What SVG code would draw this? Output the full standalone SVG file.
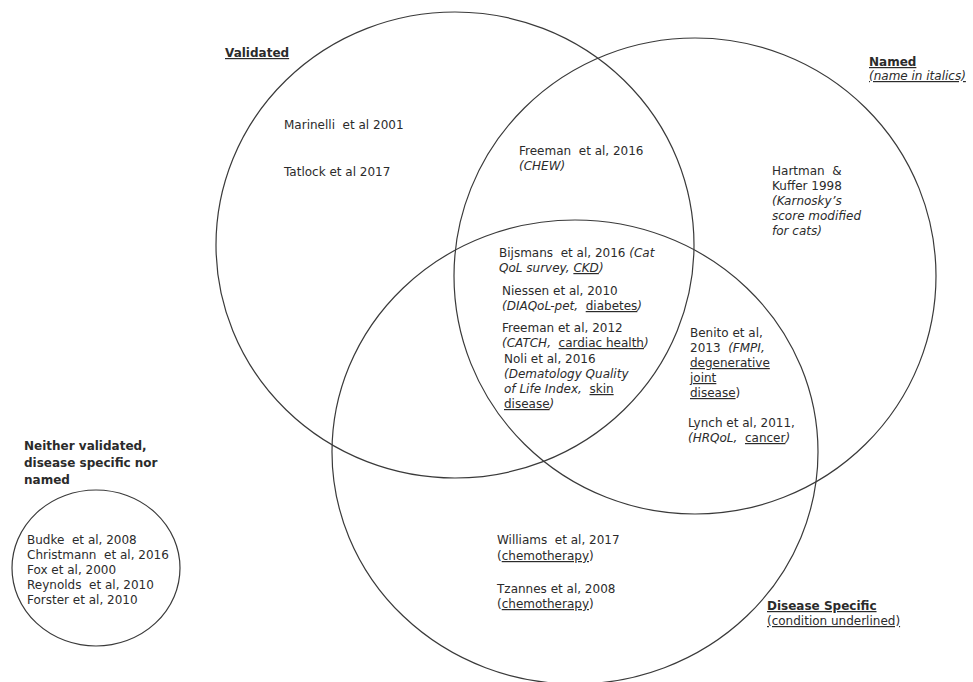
<svg xmlns="http://www.w3.org/2000/svg" width="973" height="682" viewBox="0 0 973 682">
  <style>
    .set { fill: none; stroke: #3a3a3a; stroke-width: 1.2; }
    text { font-family: "DejaVu Sans", Verdana, "Liberation Sans", sans-serif; font-size: 12px; fill: #2b2b2b; white-space: pre; }
    .hd { font-weight: bold; text-decoration: underline; }
    .hb { font-weight: bold; }
    .it { font-style: italic; }
    .ul { text-decoration: underline; }
    .up { text-decoration: underline; font-style: normal; }
  </style>
  <rect width="973" height="682" fill="#ffffff"/>

  <!-- set outlines with their headings -->
  <g id="set-validated">
    <ellipse class="set" cx="455" cy="245" rx="239" ry="233"/>
    <text x="225" y="57" class="hd">Validated</text>
  </g>
  <g id="set-named">
    <ellipse class="set" cx="695" cy="276" rx="241" ry="238"/>
    <text x="869" y="66" class="hd">Named</text>
    <text x="869" y="80" class="it ul">(name in italics)</text>
  </g>
  <g id="set-disease">
    <ellipse class="set" cx="575" cy="452" rx="243" ry="232"/>
    <text x="767" y="610" class="hd">Disease Specific</text>
    <text x="767" y="625" class="ul">(condition underlined)</text>
  </g>
  <g id="set-neither">
    <ellipse class="set" cx="96" cy="568" rx="84" ry="78"/>
    <text x="24" y="450" class="hb">Neither validated,</text>
    <text x="24" y="467" class="hb">disease specific nor</text>
    <text x="24" y="484" class="hb">named</text>
  </g>

  <!-- validated only -->
  <g id="validated-only">
    <text x="284" y="129">Marinelli  et al 2001</text>
    <text x="284" y="176">Tatlock et al 2017</text>
  </g>

  <!-- validated and named -->
  <g id="validated-named">
    <text x="519" y="155">Freeman  et al, 2016</text>
    <text x="519" y="170" class="it">(CHEW)</text>
  </g>

  <!-- named only -->
  <g id="named-only">
    <text x="772" y="175">Hartman  &amp;</text>
    <text x="772" y="190">Kuffer 1998</text>
    <text x="772" y="205" class="it">(Karnosky’s</text>
    <text x="772" y="220" class="it">score modified</text>
    <text x="772" y="235" class="it">for cats)</text>
  </g>

  <!-- all three sets -->
  <g id="all-three">
    <text x="499" y="257">Bijsmans  et al, 2016 <tspan class="it">(Cat</tspan></text>
    <text x="499" y="272" class="it">QoL survey, <tspan class="ul">CKD</tspan>)</text>
    <text x="502" y="295">Niessen et al, 2010</text>
    <text x="502" y="310" class="it">(DIAQoL-pet,  <tspan class="up">diabetes</tspan>)</text>
    <text x="502" y="332">Freeman et al, 2012</text>
    <text x="502" y="347" class="it">(CATCH,  <tspan class="up">cardiac health</tspan>)</text>
    <text x="504" y="363">Noli et al, 2016</text>
    <text x="504" y="378" class="it">(Dematology Quality</text>
    <text x="504" y="393" class="it">of Life Index,  <tspan class="up">skin</tspan></text>
    <text x="504" y="408"><tspan class="ul">disease</tspan><tspan class="it">)</tspan></text>
  </g>

  <!-- named and disease specific -->
  <g id="named-disease">
    <text x="690" y="337">Benito et al,</text>
    <text x="690" y="352">2013  <tspan class="it">(FMPI,</tspan></text>
    <text x="690" y="367" class="ul">degenerative</text>
    <text x="690" y="382" class="ul">joint</text>
    <text x="690" y="397"><tspan class="ul">disease</tspan>)</text>
    <text x="688" y="427">Lynch et al, 2011,</text>
    <text x="688" y="442" class="it">(HRQoL,  <tspan class="up">cancer</tspan>)</text>
  </g>

  <!-- disease specific only -->
  <g id="disease-only">
    <text x="497" y="544">Williams  et al, 2017</text>
    <text x="497" y="560">(<tspan class="ul">chemotherapy</tspan>)</text>
    <text x="497" y="593">Tzannes et al, 2008</text>
    <text x="497" y="608">(<tspan class="ul">chemotherapy</tspan>)</text>
  </g>

  <!-- neither -->
  <g id="neither-list">
    <text x="27" y="544">Budke  et al, 2008</text>
    <text x="27" y="559">Christmann  et al, 2016</text>
    <text x="27" y="574">Fox et al, 2000</text>
    <text x="27" y="589">Reynolds  et al, 2010</text>
    <text x="27" y="604">Forster et al, 2010</text>
  </g>
</svg>
